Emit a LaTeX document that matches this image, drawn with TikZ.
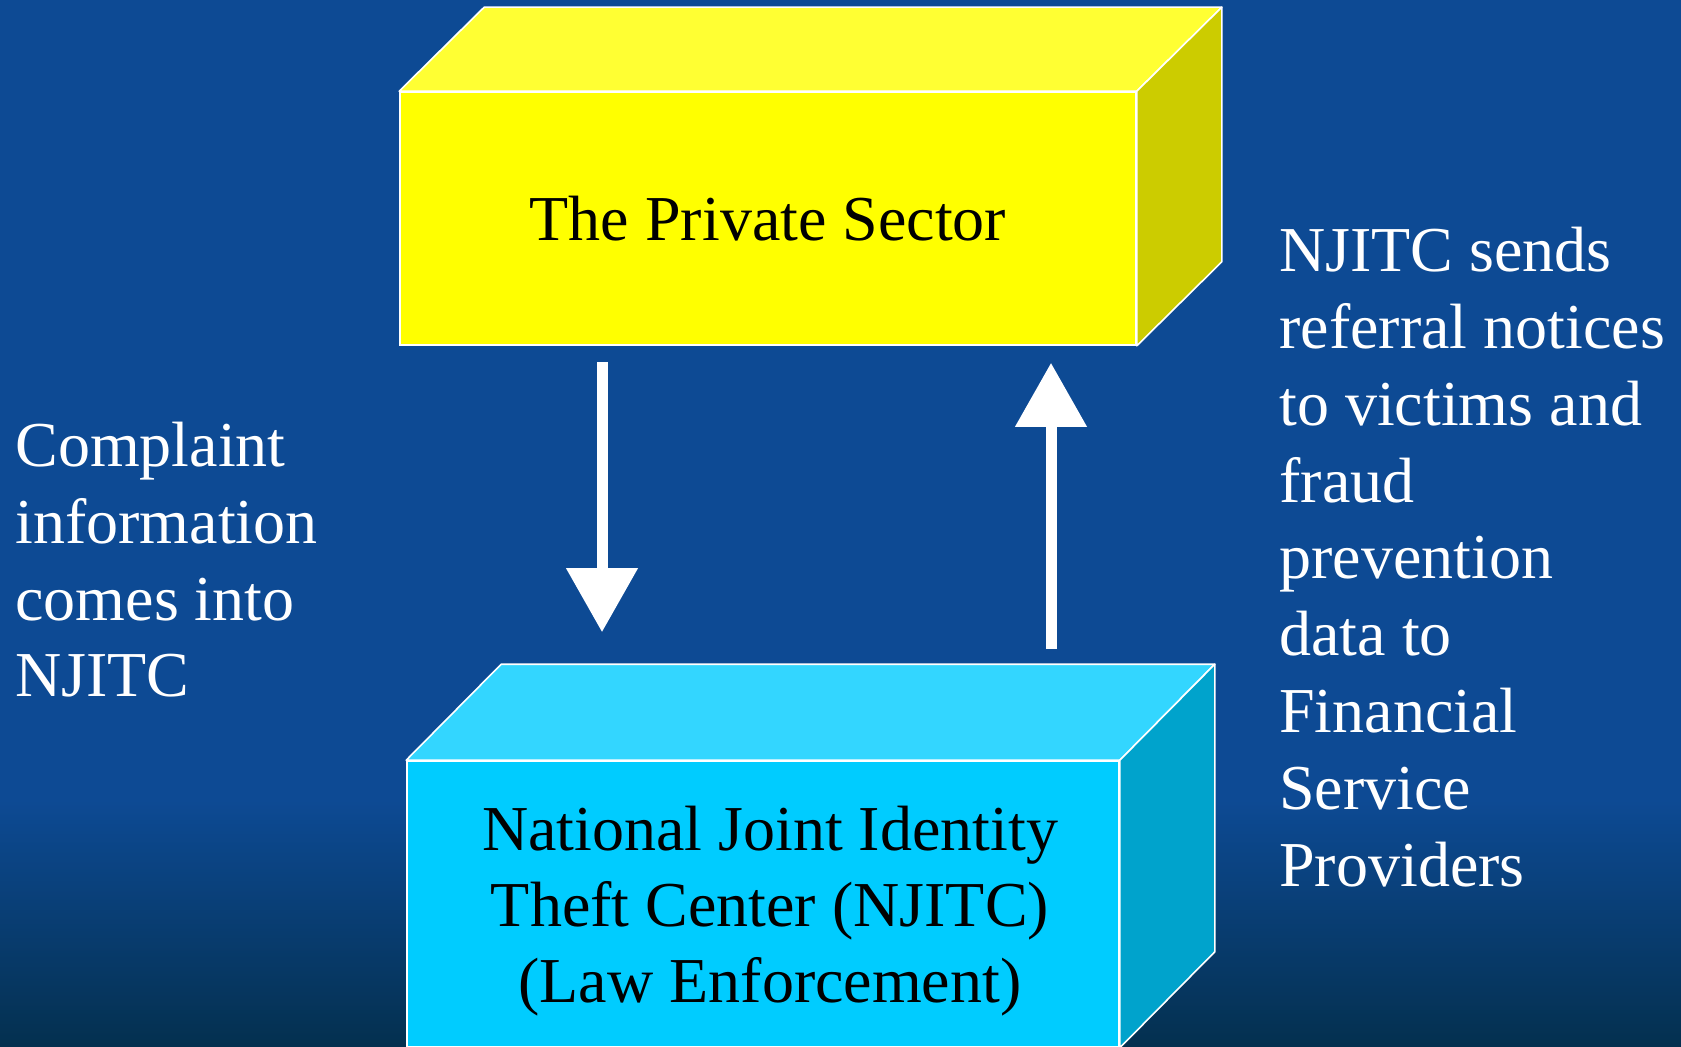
\documentclass[tikz,border=0pt]{standalone}
\usepackage{fontspec}
\setmainfont{Liberation Serif}
\usetikzlibrary{arrows.meta,calc}
\definecolor{slideblue}{HTML}{0D4A94}
\definecolor{slidedark}{HTML}{04304F}
\definecolor{ysfront}{HTML}{FFFF00}
\definecolor{ystop}{HTML}{FFFF33}
\definecolor{ysside}{HTML}{CCCC00}
\definecolor{cyfront}{HTML}{00CCFF}
\definecolor{cytop}{HTML}{33D6FF}
\definecolor{cyside}{HTML}{00A3CC}
\begin{document}
\begin{tikzpicture}[x=0.5pt, y=-0.5pt,
    front/.style={draw=white, line width=0.8pt, inner sep=0pt, align=center, font=\fontsize{32}{38}\selectfont},
    face/.style={draw=white, line width=0.8pt, line join=round},
    bigarrow/.style={draw=white, line width=5.5pt, -{Triangle[length=32pt, width=34.5pt]}},
    note/.style={text=white, inner sep=0pt, align=left, font=\fontsize{32}{38.4}\selectfont}]
    % Background
    \fill[slideblue] (0,0) rectangle (1681,1047);
    \shade[top color=slideblue, bottom color=slidedark] (0,800) rectangle (1681,1047);
    \useasboundingbox (0,0) rectangle (1681,1047);

    % Private sector box
    \node[front, fill=ysfront, minimum width=368pt, minimum height=126.5pt] (ps) at (768,218.5) {The Private Sector};
    \filldraw[face, fill=ystop] (ps.north west) -- ++(85,-84) -- ($(ps.north east)+(85,-84)$) -- (ps.north east) -- cycle;
    \filldraw[face, fill=ysside] (ps.north east) -- ++(85,-84) -- ($(ps.south east)+(85,-84)$) -- (ps.south east) -- cycle;

    % NJITC box
    \node[front, fill=cyfront, minimum width=356pt, minimum height=143pt, text depth=0pt] (njitc) at (763,904) {};
    \node[front, draw=none, anchor=base] (njitctext) at (770,1002) {National Joint Identity\\ Theft Center (NJITC)\\(Law Enforcement)};
    \filldraw[face, fill=cytop] (njitc.north west) -- ++(95,-96) -- ($(njitc.north east)+(95,-96)$) -- (njitc.north east) -- cycle;
    \filldraw[face, fill=cyside] (njitc.north east) -- ++(95,-96) -- ($(njitc.south east)+(95,-96)$) -- (njitc.south east) -- cycle;

    % Arrows
    \coordinate (dtip) at ($(njitc.north)+(-161,-128)$);
    \coordinate (utip) at ($(ps.south)+(283,17)$);
    \draw[bigarrow] ($(ps.south)+(-166,16)$) -- (dtip);
    \draw[bigarrow] ($(njitc.north)+(288,-111)$) -- (utip);

    % Labels (base = last line)
    \node[note, anchor=base west] (complaint) at (15,697) {Complaint\\information\\comes into\\NJITC};
    \node[note, anchor=base west] (referral) at (1279,886) {NJITC sends\\referral notices\\to victims and\\fraud\\prevention\\data to\\Financial\\Service\\Providers};
\end{tikzpicture}
\end{document}
